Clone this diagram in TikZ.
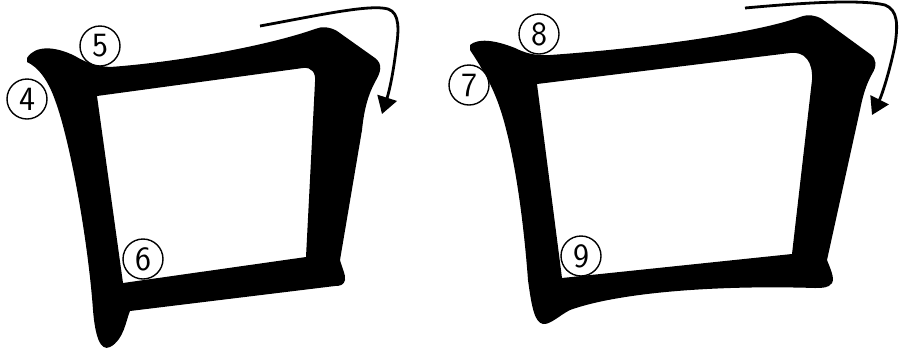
\documentclass[tikz,border=0pt]{standalone}
\usetikzlibrary{arrows.meta}
\begin{document}
\begin{tikzpicture}[x=1pt,y=-1pt,
  glyph/.style={fill=black,even odd rule},
  num/.style={circle,draw=black,fill=white,line width=1.4pt,minimum size=40pt,inner sep=0pt,
    font=\sffamily\fontsize{34}{34}\selectfont},
  turn/.style={line width=2.8pt,-{Triangle[length=17pt,width=20pt]}}]
\useasboundingbox (0,0) rectangle (899,349);
% left character
\fill[glyph]
 (27,58) .. controls (35,45) and (55,46) .. (75,56)
 .. controls (85,62) and (95,66) .. (110,67)
 .. controls (180,62) and (270,45) .. (315,29)
 .. controls (322,26) and (330,27) .. (337,31)
 -- (375,58)
 .. controls (383,64) and (381,72) .. (375,82)
 .. controls (368,95) and (364,110) .. (362,130)
 -- (340,260)
 .. controls (342,268) and (346,275) .. (345,280)
 .. controls (344,285) and (340,286) .. (335,286)
 -- (130,311)
 .. controls (126,320) and (124,340) .. (110,347)
 .. controls (100,352) and (95,335) .. (93,310)
 .. controls (88,240) and (70,140) .. (55,100)
 .. controls (48,80) and (38,67) .. (27,62) -- cycle
 (97,96) -- (303,68) .. controls (312,67) and (316,73) .. (315,82)
 -- (306,257) -- (123,283) -- cycle;
% right character
\fill[glyph]
 (470,45) .. controls (478,38) and (495,40) .. (515,48)
 .. controls (525,53) and (535,56) .. (550,55)
 .. controls (650,48) and (760,32) .. (800,17)
 .. controls (808,14) and (815,15) .. (822,19)
 -- (870,54)
 .. controls (877,59) and (877,66) .. (872,74)
 .. controls (866,85) and (863,95) .. (860,110)
 -- (827,260)
 .. controls (830,268) and (835,278) .. (832,283)
 .. controls (829,288) and (822,288) .. (815,288)
 .. controls (720,285) and (620,292) .. (570,310)
 .. controls (560,315) and (550,325) .. (543,324)
 .. controls (535,322) and (532,310) .. (528,280)
 .. controls (522,200) and (510,130) .. (495,95)
 .. controls (488,78) and (478,62) .. (470,50) -- cycle
 (537,84) -- (790,53) .. controls (805,51) and (813,62) .. (812,80)
 -- (792,254) -- (562,278) -- cycle;
% arrows
\coordinate (a1s) at (260,26);
\coordinate (a1e) at (382,114);
\coordinate (a2s) at (745,8);
\coordinate (a2e) at (872,115);
\draw[turn] (a1s) .. controls (320,15) and (370,4) .. (388,9)
  .. controls (400,13) and (399,30) .. (396,50)
  .. controls (393,75) and (389,92) .. (a1e);
\draw[turn] (a2s) .. controls (800,3) and (860,-1) .. (885,5)
  .. controls (898,10) and (898,25) .. (895,45)
  .. controls (890,70) and (882,95) .. (a2e);
% numbers
\node[num] (n4) at (27,99) {4};
\node[num] (n5) at (100,46) {5};
\node[num] (n6) at (143,259) {6};
\node[num] (n7) at (469,85) {7};
\node[num] (n8) at (539,34) {8};
\node[num] (n9) at (581,256) {9};
\end{tikzpicture}
\end{document}
